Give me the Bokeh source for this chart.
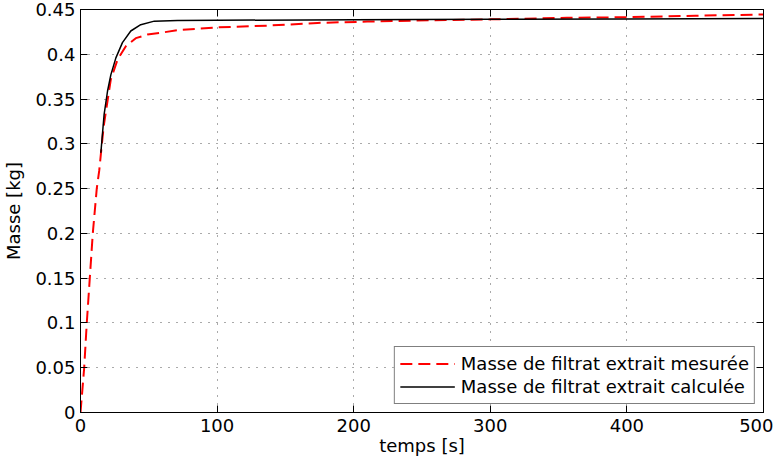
from bokeh.plotting import figure
from bokeh.models import LinearAxis, FixedTicker, Legend, LegendItem, Range1d
from bokeh.embed import file_html
from bokeh.resources import INLINE

# measured filtrate mass (red dashed)
t_mes = [0, 2.7, 4.6, 6.8, 9.0, 11.9, 13.7, 15.0, 17.0, 19.8, 22.2, 27.1, 33.2, 40.5,
         49.0, 58.8, 71.0, 100.0, 137.0, 173.5, 210.0, 259.0, 300.0, 356.0, 400.0,
         450.0, 500.0]
m_mes = [0, 0.05, 0.1, 0.15, 0.2, 0.25, 0.27, 0.29, 0.32, 0.348, 0.372, 0.394, 0.409,
         0.418, 0.422, 0.424, 0.427, 0.430, 0.432, 0.435, 0.4365, 0.438, 0.439, 0.4407,
         0.4414, 0.443, 0.4445]

# calculated filtrate mass (black solid)
t_calc = [14.9, 17.3, 19.8, 22.2, 25.9, 30.7, 36.8, 44.1, 54.0, 71.0, 100.0, 200.0,
          300.0, 400.0, 500.0]
m_calc = [0.29, 0.333, 0.359, 0.377, 0.396, 0.413, 0.426, 0.433, 0.437, 0.4377, 0.438,
          0.4385, 0.439, 0.4395, 0.440]

x_ticks = [0, 100, 200, 300, 400, 500]
y_ticks = [0, 0.05, 0.1, 0.15, 0.2, 0.25, 0.3, 0.35, 0.4, 0.45]
y_tick_labels = ["0", "0.05", "0.1", "0.15", "0.2", "0.25", "0.3", "0.35", "0.4", "0.45"]
x_label = "temps [s]"
y_label = "Masse [kg]"
label_mes = "Masse de filtrat extrait mesurée"
label_calc = "Masse de filtrat extrait calculée"

FONT = "DejaVu Sans"
FS = "18px"

p = figure(frame_width=683, frame_height=403, x_range=Range1d(0, 500), y_range=Range1d(0, 0.45),
           output_backend="svg", toolbar_location=None,
           min_border_left=75, min_border_right=10, min_border_top=9, min_border_bottom=40)
p.background_fill_color = "white"
p.border_fill_color = "white"
p.outline_line_color = "black"
p.outline_line_width = 1

r_mes = p.line(t_mes, m_mes, line_color="red", line_width=2, line_dash="12 6")
r_calc = p.line(t_calc, m_calc, line_color="black", line_width=1.5)

# main axes
p.xaxis.ticker = FixedTicker(ticks=x_ticks)
p.yaxis.ticker = FixedTicker(ticks=y_ticks)
p.yaxis.major_label_overrides = {v: s for v, s in zip(y_ticks, y_tick_labels)}
p.xaxis.axis_label = x_label
p.yaxis.axis_label = y_label
for ax in (p.xaxis, p.yaxis):
    ax.major_label_text_font = FONT
    ax.major_label_text_font_size = FS
    ax.major_label_text_color = "black"
    ax.axis_label_text_font = FONT
    ax.axis_label_text_font_size = FS
    ax.axis_label_text_font_style = "normal"
    ax.axis_label_text_color = "black"
    ax.axis_line_color = "black"
    ax.major_tick_line_color = "black"
    ax.major_tick_in = 7
    ax.major_tick_out = 0
    ax.minor_tick_line_color = None
p.xaxis.major_label_standoff = 6
p.xaxis.axis_label_standoff = 0
p.yaxis.major_label_standoff = 5
p.yaxis.axis_label_standoff = 8

# box axes (ticks only)
top = LinearAxis(ticker=FixedTicker(ticks=x_ticks), major_label_text_font_size="0px",
                 major_tick_in=7, major_tick_out=0, minor_tick_line_color=None,
                 major_label_standoff=0, axis_line_color="black")
right = LinearAxis(ticker=FixedTicker(ticks=y_ticks), major_label_text_font_size="0px",
                   major_tick_in=7, major_tick_out=0, minor_tick_line_color=None,
                   major_label_standoff=0, axis_line_color="black")
p.add_layout(top, "above")
p.add_layout(right, "right")

# grid
p.xgrid.ticker = FixedTicker(ticks=x_ticks)
p.ygrid.ticker = FixedTicker(ticks=y_ticks)
p.grid.grid_line_color = "#555555"
p.grid.grid_line_dash = "1 7"
p.grid.grid_line_width = 1

legend = Legend(items=[LegendItem(label=label_mes, renderers=[r_mes]),
                       LegendItem(label=label_calc, renderers=[r_calc])],
                location="bottom_right")
legend.label_text_font = FONT
legend.label_text_font_size = FS
legend.label_text_color = "black"
legend.border_line_color = "black"
legend.border_line_width = 1
legend.background_fill_color = "white"
legend.background_fill_alpha = 1
legend.glyph_width = 55
legend.glyph_height = 23
legend.label_height = 23
legend.label_standoff = 6
legend.padding = 5
legend.spacing = 0
legend.margin = 8
p.add_layout(legend)

open("out.html", "w").write(file_html(p, INLINE))
